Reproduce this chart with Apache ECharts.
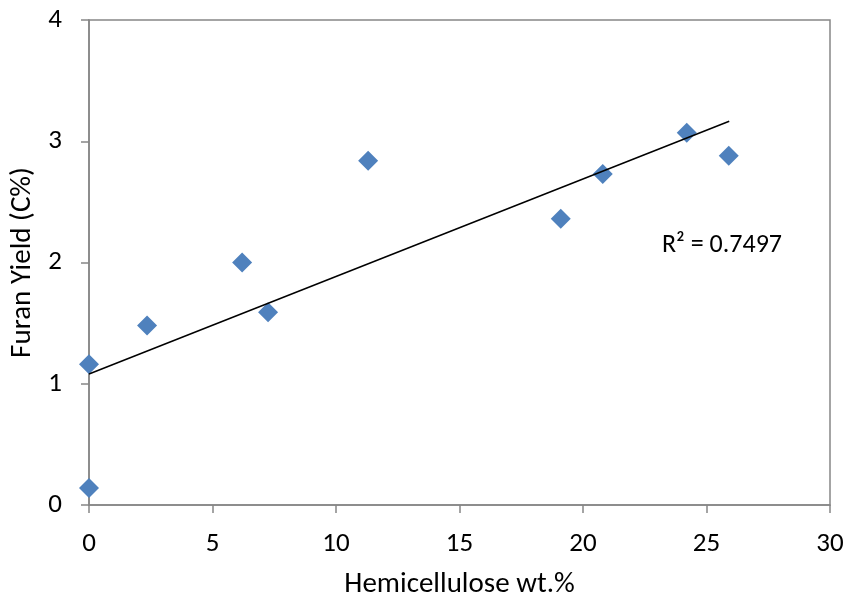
<!DOCTYPE html>
<html>
<head>
<meta charset="utf-8">
<script src="https://cdn.jsdelivr.net/npm/echarts@6/dist/echarts.min.js"></script>
<style>
  html, body { margin: 0; padding: 0; background: #fff; }
  #chart { width: 849px; height: 598px; }
</style>
</head>
<body>
<div id="chart"></div>
<script>
// hemicellulose content (wt.%) vs furan yield (C%)
const hemicellulose = [0, 0, 2.35, 6.2, 7.25, 11.3, 19.1, 20.8, 24.2, 25.9]
const furanYield = [0.14, 1.16, 1.48, 2.0, 1.59, 2.84, 2.36, 2.73, 3.07, 2.88]
// linear trendline ends
const trendX = [0, 25.92]
const trendY = [1.08, 3.165]
const xTicks = [0, 5, 10, 15, 20, 25, 30]
const yTicks = [0, 1, 2, 3, 4]

const font = 'Carlito, Lato, "Liberation Sans", sans-serif'
const axisGray = '#868686'

const chart = echarts.init(document.getElementById('chart'))
chart.setOption({
  animation: false,
  grid: {
    left: 89, right: 19, top: 20, bottom: 93,
    outerBoundsMode: 'none',
    containLabel: false,
    show: true, borderColor: axisGray, borderWidth: 1.5,
  },
  xAxis: {
    type: 'value',
    min: xTicks[0],
    max: xTicks[xTicks.length - 1],
    interval: 5,
    name: 'Hemicellulose wt.%',
    nameLocation: 'middle',
    nameGap: 65,
    nameTextStyle: { fontFamily: font, fontSize: 29, color: '#000' },
    axisLine: { show: true, lineStyle: { color: axisGray, width: 1.5 } },
    axisTick: { show: true, length: 8, lineStyle: { color: axisGray, width: 1.5 } },
    axisLabel: { fontFamily: font, fontSize: 27, color: '#000', margin: 26 },
    splitLine: { show: false },
  },
  yAxis: {
    type: 'value',
    min: yTicks[0],
    max: yTicks[yTicks.length - 1],
    interval: 1,
    name: 'Furan Yield (C%)',
    nameLocation: 'middle',
    nameGap: 50,
    nameTextStyle: { fontFamily: font, fontSize: 29, color: '#000' },
    axisLine: { show: true, lineStyle: { color: axisGray, width: 1.5 } },
    axisTick: { show: true, length: 8, lineStyle: { color: axisGray, width: 1.5 } },
    axisLabel: { fontFamily: font, fontSize: 27, color: '#000', margin: 27 },
    splitLine: { show: false },
  },
  series: [
    {
      type: 'line',
      data: trendX.map((x, i) => [x, trendY[i]]),
      showSymbol: false,
      lineStyle: { color: '#000', width: 1.5 },
      z: 3,
    },
    {
      type: 'scatter',
      data: hemicellulose.map((x, i) => [x, furanYield[i]]),
      symbol: 'diamond',
      symbolSize: 20,
      itemStyle: { color: '#4F81BD', opacity: 1 },
      z: 2,
    },
  ],
  graphic: [
    {
      type: 'text',
      left: 662,
      top: 232,
      style: { text: 'R² = 0.7497', fontFamily: font, fontSize: 26, fill: '#000' },
    },
  ],
})
</script>
</body>
</html>
